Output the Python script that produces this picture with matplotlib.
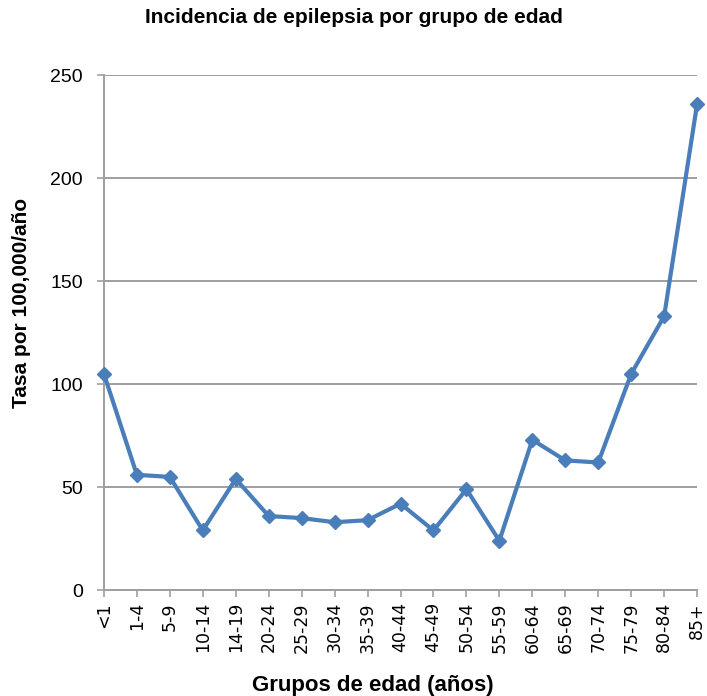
import matplotlib
matplotlib.use("Agg")
import matplotlib.pyplot as plt

age_groups = ["<1", "1-4", "5-9", "10-14", "14-19", "20-24", "25-29", "30-34",
              "35-39", "40-44", "45-49", "50-54", "55-59", "60-64", "65-69",
              "70-74", "75-79", "80-84", "85+"]
incidence = [105, 56, 55, 29, 54, 36, 35, 33, 34, 42, 29, 49, 24, 73, 63,
             62, 105, 133, 236]
y_ticks = [0, 50, 100, 150, 200, 250]

fig = plt.figure(figsize=(7.07, 6.96), dpi=100)
ax = fig.add_axes([0.147, 0.152, 0.839, 0.740])

x = list(range(len(age_groups)))
ax.plot(x, incidence, color="#4a7ebb", lw=3.0, marker="D", markersize=7,
        markeredgecolor="#4a7ebb", zorder=3, clip_on=False)

ax.set_xlim(0, len(age_groups) - 1)
ax.set_ylim(0, 250)
ax.set_yticks(y_ticks)
ax.set_xticks(x)
ax.set_xticklabels(age_groups, rotation=90, fontsize=12.5, family="DejaVu Sans")
for lbl in ax.get_yticklabels():
    lbl.set_family("Liberation Sans")
    lbl.set_fontsize(14)

ax.yaxis.grid(True, color="#9f9f9f", lw=1.4)
ax.set_axisbelow(True)
for side in ("top", "right"):
    ax.spines[side].set_visible(False)
for side in ("left", "bottom"):
    ax.spines[side].set_color("#9f9f9f")
    ax.spines[side].set_linewidth(1.4)
ax.tick_params(axis="both", colors="#9f9f9f", length=5, width=1.2,
               labelcolor="black")
ax.tick_params(axis="y", pad=10)

fig.text(0.5, 0.975, "Incidencia de epilepsia por grupo de edad",
         ha="center", va="center", family="Liberation Sans",
         fontweight="bold", fontsize=15)
fig.text(0.528, 0.015, "Grupos de edad (años)", ha="center", va="center",
         family="Liberation Sans", fontweight="bold", fontsize=16)
fig.text(0.031, 0.565, "Tasa por 100,000/año", ha="center", va="center",
         rotation=90, family="Liberation Sans", fontweight="bold",
         fontsize=15)

fig.savefig("out.png", dpi=100, facecolor="white")
